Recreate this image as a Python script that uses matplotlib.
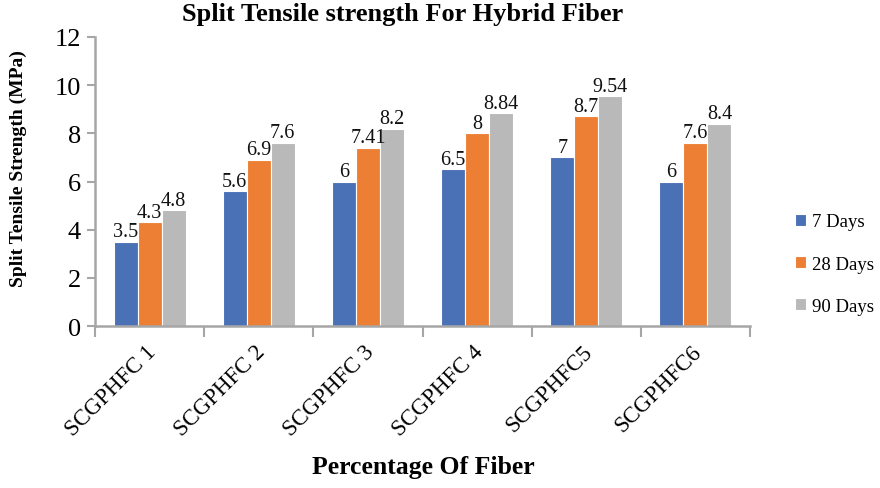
import matplotlib
matplotlib.use("Agg")
import matplotlib.pyplot as plt
import numpy as np

categories = ["SCGPHFC 1", "SCGPHFC 2", "SCGPHFC 3", "SCGPHFC 4", "SCGPHFC5", "SCGPHFC6"]
series_names = ["7 Days", "28 Days", "90 Days"]
days7 = [3.5, 5.6, 6, 6.5, 7, 6]
days28 = [4.3, 6.9, 7.41, 8, 8.7, 7.6]
days90 = [4.8, 7.6, 8.2, 8.84, 9.54, 8.4]
label_text = [
    ["3.5", "5.6", "6", "6.5", "7", "6"],
    ["4.3", "6.9", "7.41", "8", "8.7", "7.6"],
    ["4.8", "7.6", "8.2", "8.84", "9.54", "8.4"],
]
colors = ["#4A70B5", "#EC7F34", "#B9B9B9"]

plt.rcParams["font.family"] = ["Liberation Serif", "DejaVu Serif"]

fig = plt.figure(figsize=(8.8, 4.89), dpi=100)
ax = fig.add_axes([95 / 880, 1 - 327 / 489, (750 - 95) / 880, (327 - 38) / 489])

x = np.arange(len(categories))
bw = 0.22
series = [days7, days28, days90]
for i, (vals, col, name) in enumerate(zip(series, colors, series_names)):
    pos = x + (i - 1) * bw
    ax.bar(pos, vals, width=bw, color=col, edgecolor="white", linewidth=0.8,
           label=name, zorder=2)
    for px, v, t in zip(pos, vals, label_text[i]):
        ax.text(px, v + 0.02, t, ha="center", va="bottom", fontsize=14.5, color="#111111")

ax.set_xlim(-0.5, len(categories) - 0.5)
ax.set_ylim(0, 12)
ax.set_yticks(np.arange(0, 13, 2))
ax.tick_params(axis="y", labelsize=19, length=6, width=1.5, color="#A6A6A6", pad=4)

# category boundary ticks on the x axis
ax.set_xticks(np.arange(-0.5, len(categories), 1.0))
ax.set_xticklabels([])
ax.tick_params(axis="x", which="major", length=8, width=1.5, color="#A6A6A6")
ax.set_xticks(x - 0.04, minor=True)
ax.set_xticklabels(categories, minor=True, rotation=45, ha="right",
                   rotation_mode="anchor", fontsize=16.5)
ax.tick_params(axis="x", which="minor", length=0, pad=11)

for s in ["top", "right"]:
    ax.spines[s].set_visible(False)
for s in ["left", "bottom"]:
    ax.spines[s].set_color("#A6A6A6")
    ax.spines[s].set_linewidth(1.8)

fig.text(403 / 880, 1 - 14 / 489, "Split Tensile strength For Hybrid Fiber",
         ha="center", va="center", fontsize=19, fontweight="bold")
fig.text(423 / 880, 1 - 468 / 489, "Percentage Of Fiber",
         ha="center", va="center", fontsize=18.5, fontweight="bold")
fig.text(18 / 880, 1 - 169 / 489, "Split Tensile Strength (MPa)",
         ha="center", va="center", rotation=90, fontsize=14, fontweight="bold")

handles, labels = ax.get_legend_handles_labels()
leg = fig.legend(handles, labels, loc="center left", bbox_to_anchor=(795 / 880, 1 - 265 / 489),
                 frameon=False, fontsize=13.5, handlelength=0.6, handleheight=0.6,
                 handletextpad=0.3, labelspacing=1.35, borderaxespad=0, borderpad=0)

fig.savefig("out.png", dpi=100)
